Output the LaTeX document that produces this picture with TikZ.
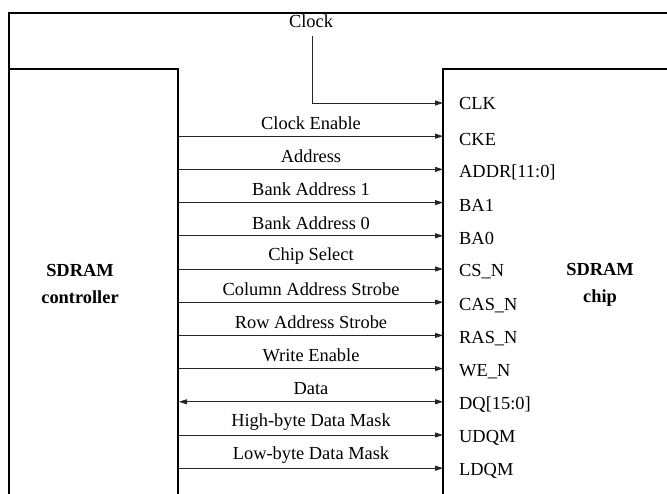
\documentclass[tikz,border=0pt]{standalone}
\usepackage{fontspec}
\setmainfont{Liberation Serif}
\usetikzlibrary{arrows.meta}
\begin{document}
\begin{tikzpicture}[x=1pt,y=-1pt,
  frame/.style={line width=2.2pt,black},
  sig/.style={line width=0.9pt,black!85,-{Triangle[length=8pt,width=5pt]}},
  bisig/.style={line width=0.9pt,black!85,{Triangle[length=8pt,width=5pt]}-{Triangle[length=8pt,width=5pt]}},
  lbl/.style={font=\fontsize{18.4}{20}\selectfont,inner sep=0pt},
  pin/.style={font=\fontsize{18.4}{20}\selectfont,inner sep=0pt,anchor=west},
  title/.style={font=\fontsize{18.4}{27}\selectfont\bfseries,inner sep=0pt,align=center}]
\useasboundingbox (0,0) rectangle (667,494);
% outer frame
\draw[frame] (9,494) -- (9,13) -- (667,13);
% controller box
\draw[frame] (9,69) -- (178,69) -- (178,494);
% chip box
\draw[frame] (443,494) -- (443,69) -- (667,69);
\node[title] (ctrl) at (80,284) {SDRAM\\controller};
\node[title] (chip) at (600,285) {SDRAM\\chip};
% clock
\node[lbl] (clock) at (311,21) {Clock};
\coordinate (clkstart) at (312,36);
\coordinate (clkend) at (443,103);
\node[pin] (pclk) at (459,104) {CLK};
\draw[sig] (clkstart) |- (clkend);
% signals
\foreach \i/\name/\pinname [count=\k] in {
  1/Clock Enable/CKE,
  2/Address/ADDR[11:0],
  3/Bank Address 1/BA1,
  4/Bank Address 0/BA0,
  5/Chip Select/CS\_N,
  6/Column Address Strobe/CAS\_N,
  7/Row Address Strobe/RAS\_N,
  8/Write Enable/WE\_N,
  9/Data/DQ[15:0],
  10/High-byte Data Mask/UDQM,
  11/Low-byte Data Mask/LDQM}{
  \pgfmathsetmacro{\yy}{103+33.2*\i}
  \coordinate (s\i) at (179,\yy);
  \coordinate (e\i) at (443,\yy);
  \node[lbl] (l\i) at (311,\yy-13) {\name};
  \node[pin] (p\i) at (459,\yy+3) {\pinname};
}
\foreach \i in {1,...,8,10,11} {\draw[sig] (s\i) -- (e\i);}
\draw[bisig] (s9) -- (e9);
\end{tikzpicture}
\end{document}
